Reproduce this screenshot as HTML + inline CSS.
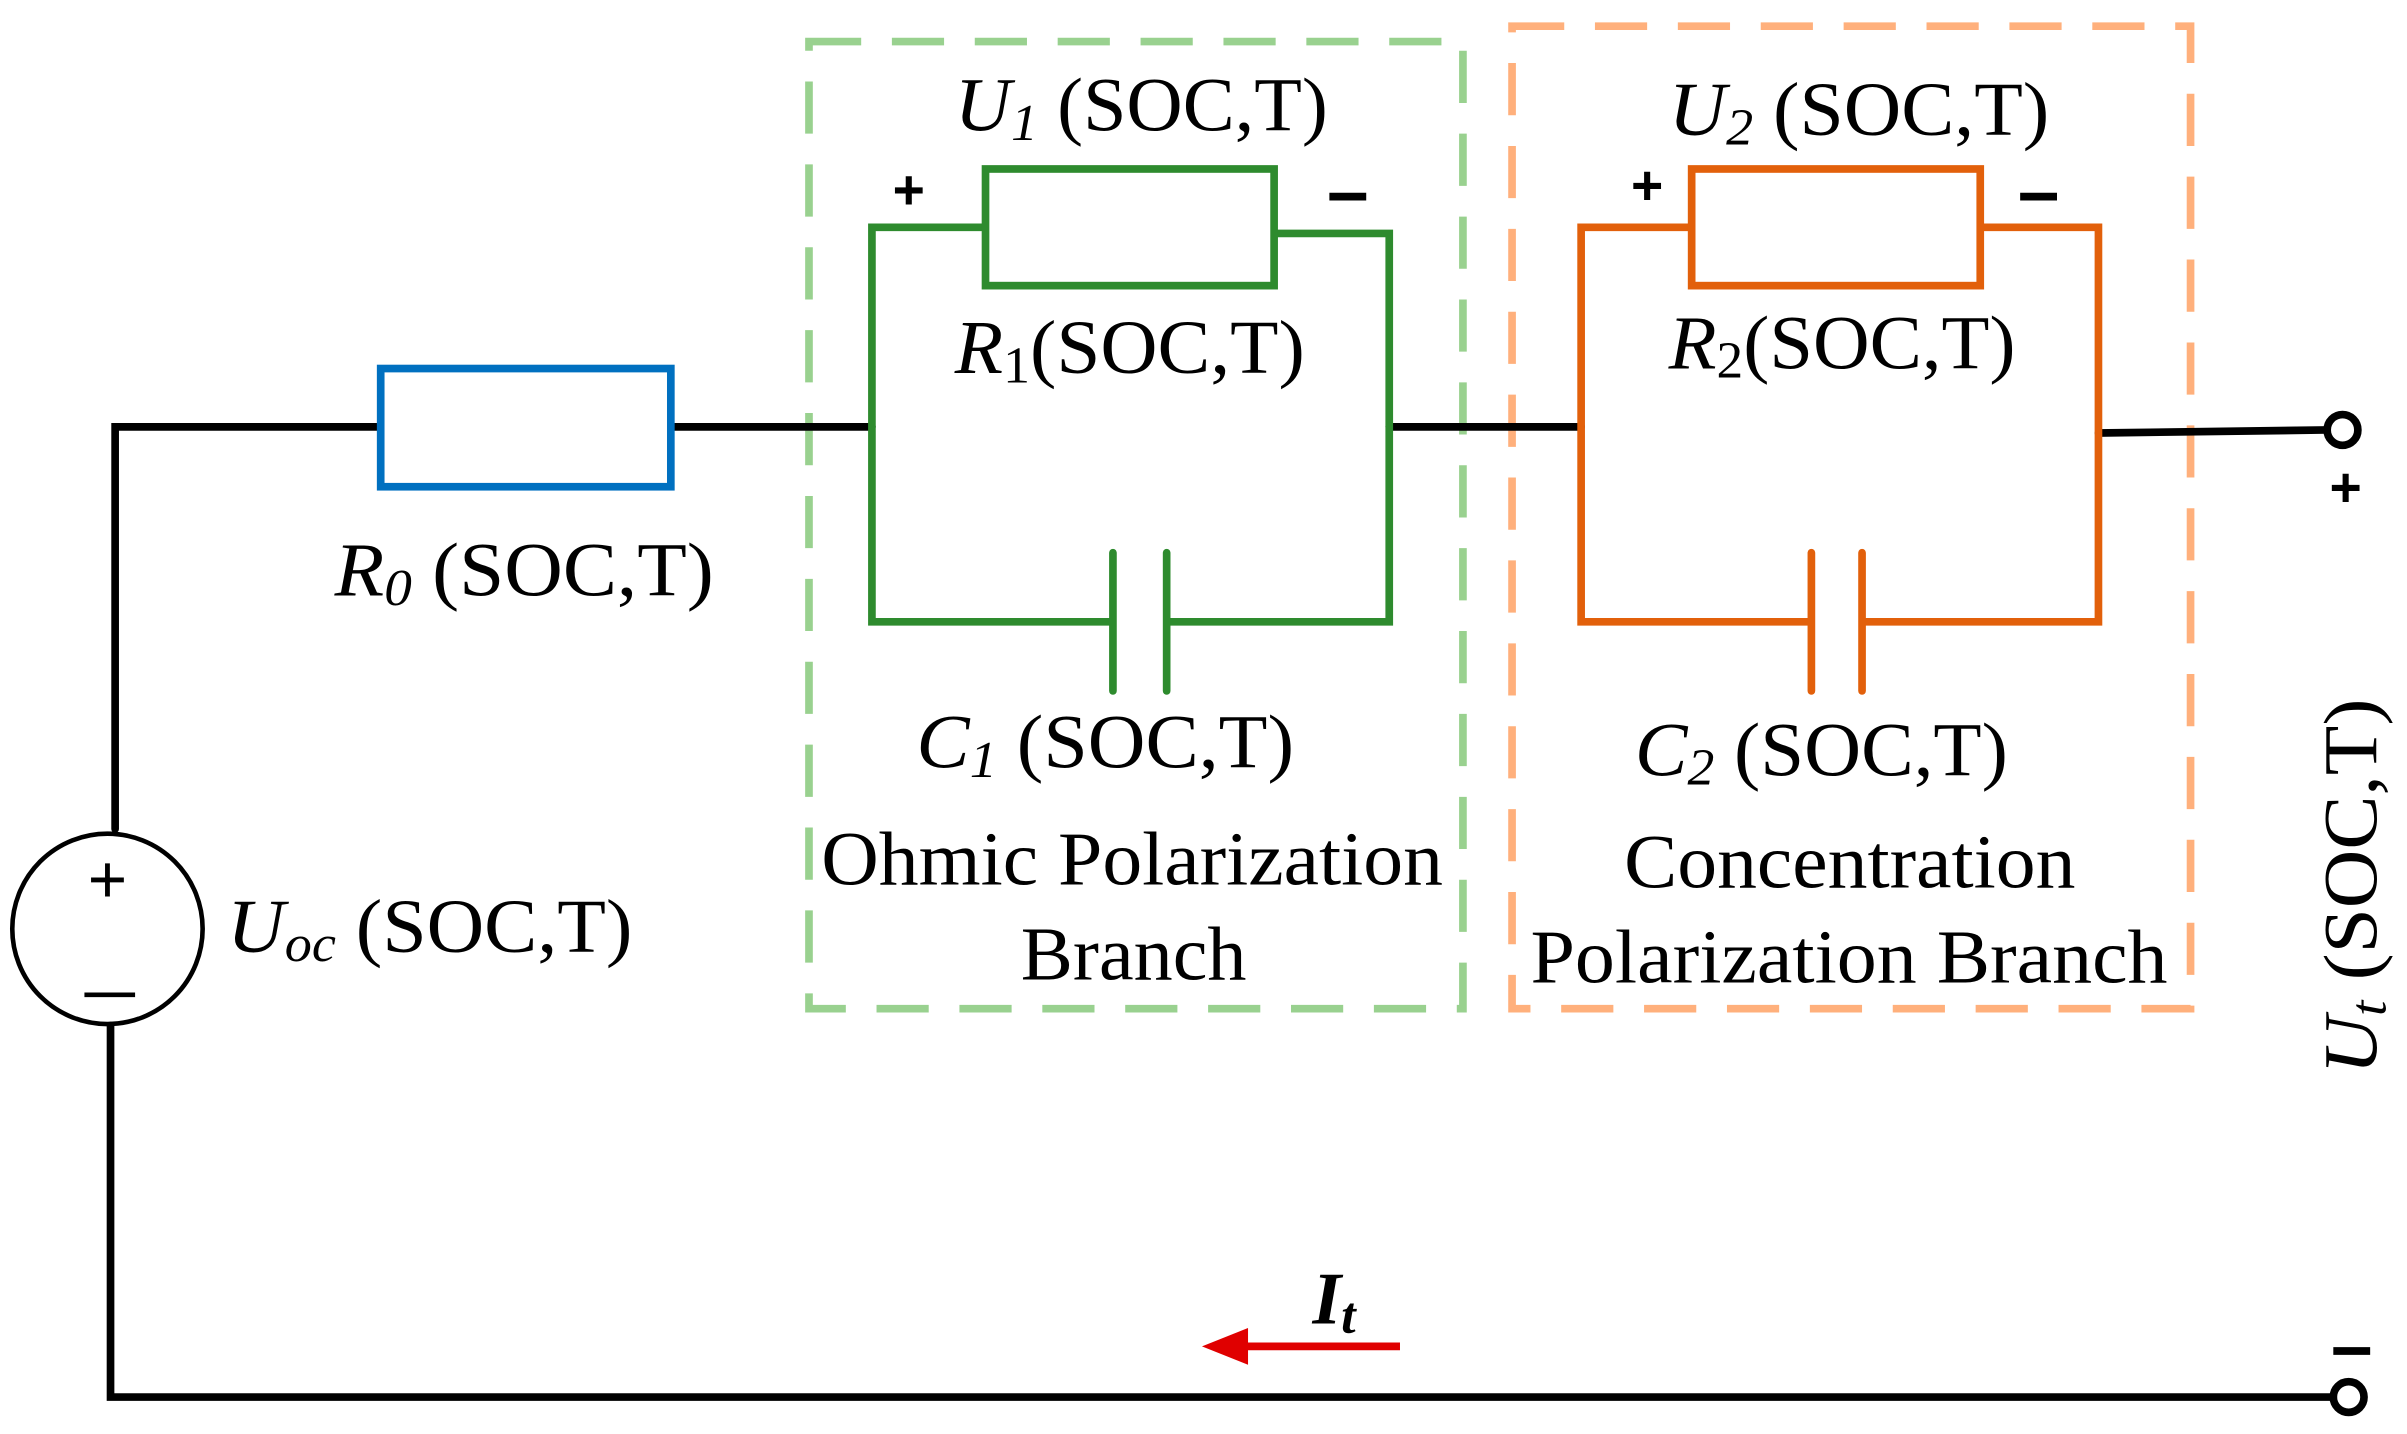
<!DOCTYPE html>
<html><head><meta charset="utf-8"><style>html,body{margin:0;padding:0;background:#fff}svg{display:block}</style></head>
<body>
<svg width="2407" height="1434" viewBox="0 0 1568 934" xmlns="http://www.w3.org/2000/svg" font-family="'Liberation Serif', serif" font-size="50">
<rect width="1568" height="934" fill="#fff"/>
<rect x="527" y="27" width="426" height="630" fill="none" stroke="#99d18f" stroke-width="5" stroke-dasharray="34,20"/>
<rect x="985" y="17" width="442" height="640" fill="none" stroke="#ffb07c" stroke-width="5" stroke-dasharray="34,20"/>
<g stroke="#000" stroke-width="5" fill="none" stroke-linecap="round">
<polyline points="75,540 75,278 248,278"/>
<line x1="437" y1="278" x2="568" y2="278"/>
<line x1="905" y1="278" x2="1030" y2="278"/>
<line x1="1367" y1="282" x2="1516" y2="280"/>
<polyline points="72,668 72,910 1520,910"/>
<circle cx="70" cy="605" r="62" stroke-width="3"/>
<circle cx="1526" cy="280" r="10" stroke-width="5"/>
<circle cx="1530" cy="910" r="10" stroke-width="5"/>
</g>
<rect x="248" y="240" width="189" height="77" fill="none" stroke="#0070c0" stroke-width="5"/>
<g stroke="#2e8b2e" stroke-width="5" fill="none">
<polyline points="642,148 568,148 568,405 725,405"/>
<polyline points="830,152 905,152 905,405 760,405"/>
<rect x="642" y="110" width="188" height="76"/>
<line x1="725" y1="360" x2="725" y2="450" stroke-linecap="round"/>
<line x1="760" y1="360" x2="760" y2="450" stroke-linecap="round"/>
</g>
<g stroke="#e2600b" stroke-width="5" fill="none">
<polyline points="1102,148 1030,148 1030,405 1180,405"/>
<polyline points="1290,148 1367,148 1367,405 1213,405"/>
<rect x="1102" y="110" width="188" height="76"/>
<line x1="1180" y1="360" x2="1180" y2="450" stroke-linecap="round"/>
<line x1="1213" y1="360" x2="1213" y2="450" stroke-linecap="round"/>
</g>
<line x1="912" y1="877" x2="805" y2="877" stroke="#e00000" stroke-width="5"/>
<polygon points="783,877 813,865 813,889" fill="#e00000"/>
<g font-family="'Liberation Sans', sans-serif" fill="#000">
<text x="70" y="588" font-size="44" text-anchor="middle">+</text>
<line x1="55" y1="648" x2="88" y2="648" stroke="#000" stroke-width="3"/>
</g>
<g font-family="'Liberation Sans', sans-serif" font-weight="bold" font-size="36" fill="#000" text-anchor="middle">
<text x="592" y="136">+</text>
<text x="1073" y="133">+</text>
<text x="1528" y="330">+</text>
</g>
<g stroke="#000" stroke-width="5">
<line x1="866" y1="128" x2="890" y2="128"/>
<line x1="1316" y1="128" x2="1340" y2="128"/>
<line x1="1520" y1="880" x2="1544" y2="880"/>
</g>
<g fill="#000">
<text x="622" y="85" textLength="243" lengthAdjust="spacingAndGlyphs"><tspan font-style="italic">U</tspan><tspan font-style="italic" font-size="34" dy="6">1</tspan><tspan dy="-6"> (SOC,T)</tspan></text>
<text x="622" y="243" textLength="228" lengthAdjust="spacingAndGlyphs"><tspan font-style="italic">R</tspan><tspan font-size="34" dy="6">1</tspan><tspan dy="-6">(SOC,T)</tspan></text>
<text x="218" y="388" textLength="247" lengthAdjust="spacingAndGlyphs"><tspan font-style="italic">R</tspan><tspan font-style="italic" font-size="34" dy="6">0</tspan><tspan dy="-6"> (SOC,T)</tspan></text>
<text x="597" y="500" textLength="246" lengthAdjust="spacingAndGlyphs"><tspan font-style="italic">C</tspan><tspan font-style="italic" font-size="34" dy="6">1</tspan><tspan dy="-6"> (SOC,T)</tspan></text>
<text x="535" y="576" textLength="405" lengthAdjust="spacingAndGlyphs">Ohmic Polarization</text>
<text x="665" y="638" textLength="147" lengthAdjust="spacingAndGlyphs">Branch</text>
<text x="1087" y="88" textLength="248" lengthAdjust="spacingAndGlyphs"><tspan font-style="italic">U</tspan><tspan font-style="italic" font-size="34" dy="6">2</tspan><tspan dy="-6"> (SOC,T)</tspan></text>
<text x="1087" y="240" textLength="226" lengthAdjust="spacingAndGlyphs"><tspan font-style="italic">R</tspan><tspan font-size="34" dy="6">2</tspan><tspan dy="-6">(SOC,T)</tspan></text>
<text x="1065" y="505" textLength="243" lengthAdjust="spacingAndGlyphs"><tspan font-style="italic">C</tspan><tspan font-style="italic" font-size="34" dy="6">2</tspan><tspan dy="-6"> (SOC,T)</tspan></text>
<text x="1058" y="578" textLength="294" lengthAdjust="spacingAndGlyphs">Concentration</text>
<text x="997" y="640" textLength="415" lengthAdjust="spacingAndGlyphs">Polarization Branch</text>
<text x="148" y="620" textLength="264" lengthAdjust="spacingAndGlyphs"><tspan font-style="italic">U</tspan><tspan font-style="italic" font-size="34" dy="6">oc</tspan><tspan dy="-6"> (SOC,T)</tspan></text>
<text transform="translate(1548,700) rotate(-90)" x="0" y="0" textLength="245" lengthAdjust="spacingAndGlyphs"><tspan font-style="italic">U</tspan><tspan font-style="italic" font-size="34" dy="6">t</tspan><tspan dy="-6"> (SOC,T)</tspan></text>
<text x="855" y="862" font-weight="bold" font-style="italic" font-size="48">I<tspan font-size="34" dy="6">t</tspan></text>
</g>
</svg>
</body></html>
